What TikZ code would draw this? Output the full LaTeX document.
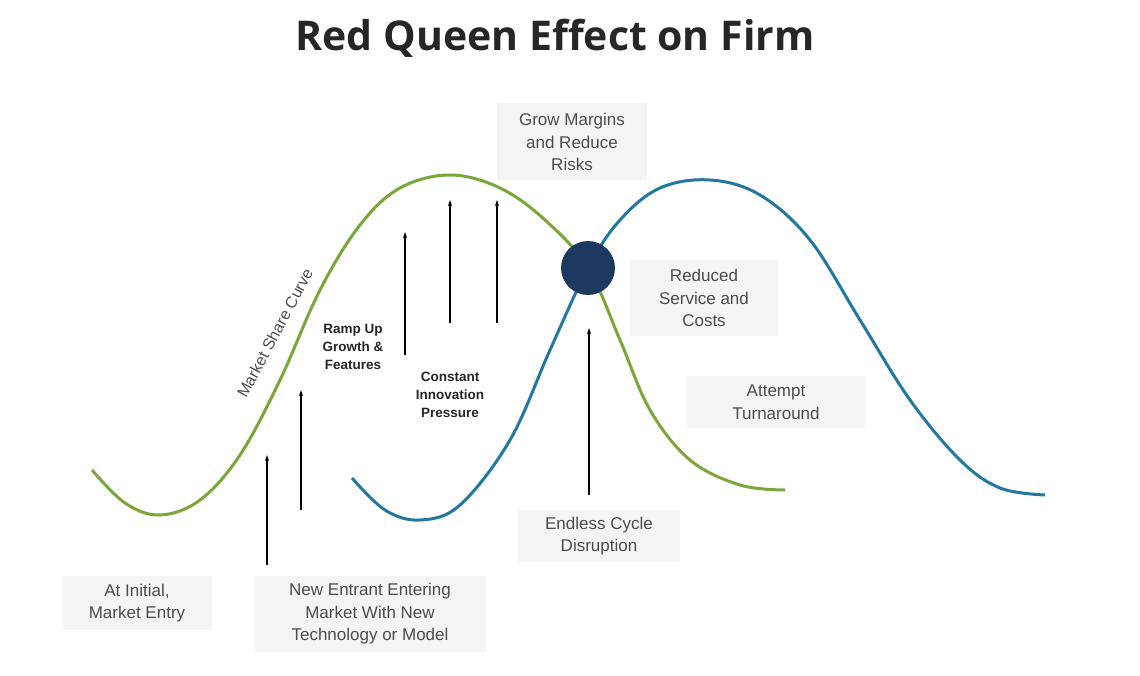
\documentclass[tikz,border=0pt]{standalone}
\usepackage{fontspec}
\setmainfont{Liberation Sans}
\newfontfamily\titlefont{Open Sans}
\usetikzlibrary{arrows.meta}
\begin{document}
\begin{tikzpicture}[x=1pt,y=-1pt,
  lbl/.style={fill=gray!9,text=black!70,font=\fontsize{17}{22.5}\selectfont,align=center,inner sep=0pt},
  bl/.style={font=\bfseries\fontsize{13.5}{18}\selectfont,align=center,text=black!85},
  arr/.style={-{Stealth[length=6pt,width=4pt]},line width=1.2pt}]
\useasboundingbox (0,0) rectangle (1140,676);
\node[font=\titlefont\bfseries\fontsize{41}{46}\selectfont,text=black!85] (title) at (555,38) {Red Queen Effect on Firm};
\draw[line width=3pt,color={rgb,255:red,122;green,166;blue,58}] plot[smooth,tension=0.6] coordinates {(92,470) (125,503) (160,515) (200,500) (240,455) (280,380) (320,290) (360,225) (400,188) (450,175) (500,188) (545,220) (588,268) (620,340) (650,410) (690,460) (740,485) (785,490)};
\draw[line width=3pt,color={rgb,255:red,35;green,120;blue,160}] plot[smooth,tension=0.6] coordinates {(352,478) (385,510) (420,520) (460,505) (510,440) (550,350) (588,268) (620,220) (660,188) (710,180) (760,195) (810,240) (860,320) (910,400) (960,460) (1000,488) (1045,495)};
\node[circle,fill={rgb,255:red,31;green,56;blue,95},minimum size=54pt,inner sep=0pt] (c) at (588,268) {};
\coordinate (a1s) at (267,565); \coordinate (a1e) at (267,455);
\coordinate (a2s) at (301,510); \coordinate (a2e) at (301,390);
\coordinate (a3s) at (405,355); \coordinate (a3e) at (405,232);
\coordinate (a4s) at (450,323); \coordinate (a4e) at (450,200);
\coordinate (a5s) at (497,323); \coordinate (a5e) at (497,200);
\coordinate (a6s) at (589,495); \coordinate (a6e) at (589,328);
\foreach \i in {1,...,6} \draw[arr] (a\i s) -- (a\i e);
\node[lbl,minimum width=150pt,minimum height=77pt] (g) at (572,142) {Grow Margins\\and Reduce\\Risks};
\node[lbl,minimum width=148pt,minimum height=75pt] (r) at (704,298) {Reduced\\Service and\\Costs};
\node[lbl,minimum width=178pt,minimum height=52pt] (t) at (776,402) {Attempt\\Turnaround};
\node[lbl,minimum width=162pt,minimum height=52pt] (e) at (599,536) {Endless Cycle\\Disruption};
\node[lbl,minimum width=149pt,minimum height=54pt] (i) at (137,603) {At Initial,\\Market Entry};
\node[lbl,minimum width=231pt,minimum height=76pt] (n) at (370,614) {New Entrant Entering\\Market With New\\Technology or Model};
\node[bl] (ramp) at (353,347) {Ramp Up\\Growth \&\\Features};
\node[bl] (const) at (450,395) {Constant\\Innovation\\Pressure};
\node[rotate=62,text=black!70,font=\fontsize{16}{18}\selectfont,inner sep=0pt] (ms) at (275,333) {Market Share Curve};
\end{tikzpicture}
\end{document}
